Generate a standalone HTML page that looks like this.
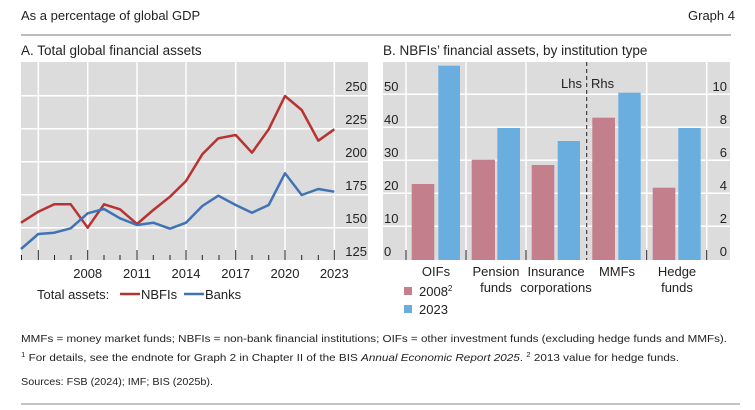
<!DOCTYPE html>
<html><head><meta charset="utf-8"><style>
body{margin:0;background:#fff;}
svg{display:block;font-family:"Liberation Sans",sans-serif;}
</style></head><body>
<svg width="755" height="410" viewBox="0 0 755 410" xmlns="http://www.w3.org/2000/svg">
<text x="21" y="20" font-size="13" fill="#222">As a percentage of global GDP</text>
<text x="735" y="20" font-size="13" fill="#222" text-anchor="end">Graph 4</text>
<line x1="21" y1="35" x2="731" y2="35" stroke="#777" stroke-width="1"/>

<!-- Panel A -->
<text x="21" y="55" font-size="13.5" fill="#222">A. Total global financial assets</text>
<rect x="21" y="62" width="347" height="198" fill="#dcdcdc"/>
<g stroke="#fff" stroke-width="1.5">
<line x1="21" y1="95.7" x2="368" y2="95.7"/><line x1="21" y1="128.7" x2="368" y2="128.7"/>
<line x1="21" y1="161.7" x2="368" y2="161.7"/><line x1="21" y1="194.7" x2="368" y2="194.7"/>
<line x1="21" y1="227.7" x2="368" y2="227.7"/>
<line x1="38.3" y1="62" x2="38.3" y2="260"/><line x1="87.7" y1="62" x2="87.7" y2="260"/>
<line x1="137" y1="62" x2="137" y2="260"/><line x1="186" y1="62" x2="186" y2="260"/>
<line x1="235.7" y1="62" x2="235.7" y2="260"/><line x1="285" y1="62" x2="285" y2="260"/>
<line x1="334.3" y1="62" x2="334.3" y2="260"/>
</g>
<g stroke="#222" stroke-width="1">
<line x1="21.5" y1="255" x2="21.5" y2="260"/><line x1="38.3" y1="250" x2="38.3" y2="260"/>
<line x1="54.5" y1="255" x2="54.5" y2="260"/><line x1="71" y1="255" x2="71" y2="260"/>
<line x1="87.7" y1="250" x2="87.7" y2="260"/><line x1="104" y1="255" x2="104" y2="260"/>
<line x1="120" y1="255" x2="120" y2="260"/><line x1="137" y1="250" x2="137" y2="260"/>
<line x1="153.3" y1="255" x2="153.3" y2="260"/><line x1="170" y1="255" x2="170" y2="260"/>
<line x1="186" y1="250" x2="186" y2="260"/><line x1="202.3" y1="255" x2="202.3" y2="260"/>
<line x1="219" y1="255" x2="219" y2="260"/><line x1="235.7" y1="250" x2="235.7" y2="260"/>
<line x1="252" y1="255" x2="252" y2="260"/><line x1="268.7" y1="255" x2="268.7" y2="260"/>
<line x1="285" y1="250" x2="285" y2="260"/><line x1="301.7" y1="255" x2="301.7" y2="260"/>
<line x1="318.3" y1="255" x2="318.3" y2="260"/><line x1="334.3" y1="250" x2="334.3" y2="260"/>
</g>
<polyline fill="none" stroke="#b83232" stroke-width="2.5" stroke-linejoin="round" points="21,222.7 38.3,211.7 54.3,204.3 70.7,204.3 87.7,227.7 104,204.3 120,209.3 137,224 153.3,210 170,196.7 186,181 202.3,154.3 218.3,138.3 235.7,135 252,152.7 268.7,129.3 285,96 301.7,110 318.3,140.7 334.3,129.3"/>
<polyline fill="none" stroke="#3f73b5" stroke-width="2.5" stroke-linejoin="round" points="21,249 38.3,234 54.3,232.7 70.7,228.3 87.7,213.3 104,209 120,218.3 137,225 153.3,222.7 170,228.7 186,222.7 202.3,206 218.3,195.7 235.7,205 252,212.7 268.7,205 285,173.3 301.7,195 318.3,189 334.3,191.7"/>
<g font-size="13" fill="#222" text-anchor="end">
<text x="367" y="91">250</text><text x="367" y="124">225</text><text x="367" y="157">200</text>
<text x="367" y="190">175</text><text x="367" y="223">150</text><text x="367" y="256">125</text>
</g>
<g font-size="13" fill="#222" text-anchor="middle">
<text x="87.7" y="278">2008</text><text x="137" y="278">2011</text><text x="186" y="278">2014</text>
<text x="235.7" y="278">2017</text><text x="285" y="278">2020</text><text x="334.3" y="278">2023</text>
</g>
<text x="37" y="299" font-size="13" fill="#222">Total assets:</text>
<line x1="120" y1="294" x2="140" y2="294" stroke="#b83232" stroke-width="2.5"/>
<text x="141" y="299" font-size="13" fill="#222">NBFIs</text>
<line x1="184" y1="294" x2="204" y2="294" stroke="#3f73b5" stroke-width="2.5"/>
<text x="205" y="299" font-size="13" fill="#222">Banks</text>

<!-- Panel B -->
<text x="383" y="55" font-size="13.5" fill="#222">B. NBFIs’ financial assets, by institution type</text>
<rect x="383" y="62" width="347" height="198" fill="#dcdcdc"/>
<g stroke="#fff" stroke-width="1.5">
<line x1="383" y1="94.3" x2="730" y2="94.3"/><line x1="383" y1="127.3" x2="730" y2="127.3"/>
<line x1="383" y1="160.3" x2="730" y2="160.3"/><line x1="383" y1="193.3" x2="730" y2="193.3"/>
<line x1="383" y1="226.3" x2="730" y2="226.3"/>
<line x1="406" y1="62" x2="406" y2="260"/><line x1="466" y1="62" x2="466" y2="260"/>
<line x1="526" y1="62" x2="526" y2="260"/><line x1="646.7" y1="62" x2="646.7" y2="260"/>
<line x1="706.7" y1="62" x2="706.7" y2="260"/>
</g>
<g fill="#c47f8c">
<rect x="411.7" y="184" width="22.6" height="76"/>
<rect x="471.7" y="159.7" width="23.3" height="100.3"/>
<rect x="531.7" y="165" width="22.6" height="95"/>
<rect x="592.3" y="117.7" width="22.7" height="142.3"/>
<rect x="652.7" y="187.7" width="22.6" height="72.3"/>
</g>
<g fill="#6aaee0">
<rect x="438.3" y="65.7" width="21.7" height="194.3"/>
<rect x="497.3" y="128" width="22.7" height="132"/>
<rect x="557.7" y="141" width="22.3" height="119"/>
<rect x="618.3" y="92.7" width="22.4" height="167.3"/>
<rect x="678.3" y="128" width="22.4" height="132"/>
</g>
<line x1="586.7" y1="62" x2="586.7" y2="260" stroke="#222" stroke-width="1" stroke-dasharray="4,3"/>
<g stroke="#222" stroke-width="1">
<line x1="406" y1="250" x2="406" y2="260"/><line x1="466" y1="250" x2="466" y2="260"/>
<line x1="526" y1="250" x2="526" y2="260"/><line x1="646.7" y1="250" x2="646.7" y2="260"/>
<line x1="706.7" y1="250" x2="706.7" y2="260"/>
</g>
<text x="582" y="88" font-size="13" fill="#222" text-anchor="end">Lhs</text>
<text x="591" y="88" font-size="13" fill="#222">Rhs</text>
<g font-size="13" fill="#222">
<text x="384" y="91">50</text><text x="384" y="124">40</text><text x="384" y="157">30</text>
<text x="384" y="190">20</text><text x="384" y="223">10</text><text x="384" y="256">0</text>
</g>
<g font-size="13" fill="#222" text-anchor="end">
<text x="727" y="91">10</text><text x="727" y="124">8</text><text x="727" y="157">6</text>
<text x="727" y="190">4</text><text x="727" y="223">2</text><text x="727" y="256">0</text>
</g>
<g font-size="13" fill="#222" text-anchor="middle">
<text x="436" y="276">OIFs</text>
<text x="496" y="276">Pension</text><text x="496" y="292">funds</text>
<text x="556" y="276">Insurance</text><text x="556" y="292">corporations</text>
<text x="617" y="276">MMFs</text>
<text x="677" y="276">Hedge</text><text x="677" y="292">funds</text>
</g>
<rect x="404" y="287" width="8" height="8" fill="#c47f8c"/>
<text x="419" y="296" font-size="13" fill="#222">2008<tspan font-size="8" dy="-5">2</tspan></text>
<rect x="404" y="305" width="8" height="8" fill="#6aaee0"/>
<text x="419" y="314" font-size="13" fill="#222">2023</text>

<!-- Footer -->
<text x="21" y="342" font-size="10.5" fill="#222" textLength="706" lengthAdjust="spacingAndGlyphs">MMFs = money market funds; NBFIs = non-bank financial institutions; OIFs = other investment funds (excluding hedge funds and MMFs).</text>
<text x="21" y="361" font-size="10.5" fill="#222" textLength="658" lengthAdjust="spacingAndGlyphs"><tspan font-size="7" dy="-4">1</tspan><tspan dy="4">  For details, see the endnote for Graph 2 in Chapter II of the BIS </tspan><tspan font-style="italic">Annual Economic Report 2025</tspan><tspan>.   </tspan><tspan font-size="7" dy="-4">2</tspan><tspan dy="4">  2013 value for hedge funds.</tspan></text>
<text x="21" y="385" font-size="10.5" fill="#222" textLength="192" lengthAdjust="spacingAndGlyphs">Sources: FSB (2024); IMF; BIS (2025b).</text>
<line x1="21" y1="404" x2="740" y2="404" stroke="#888" stroke-width="1"/>
</svg>
</body></html>
